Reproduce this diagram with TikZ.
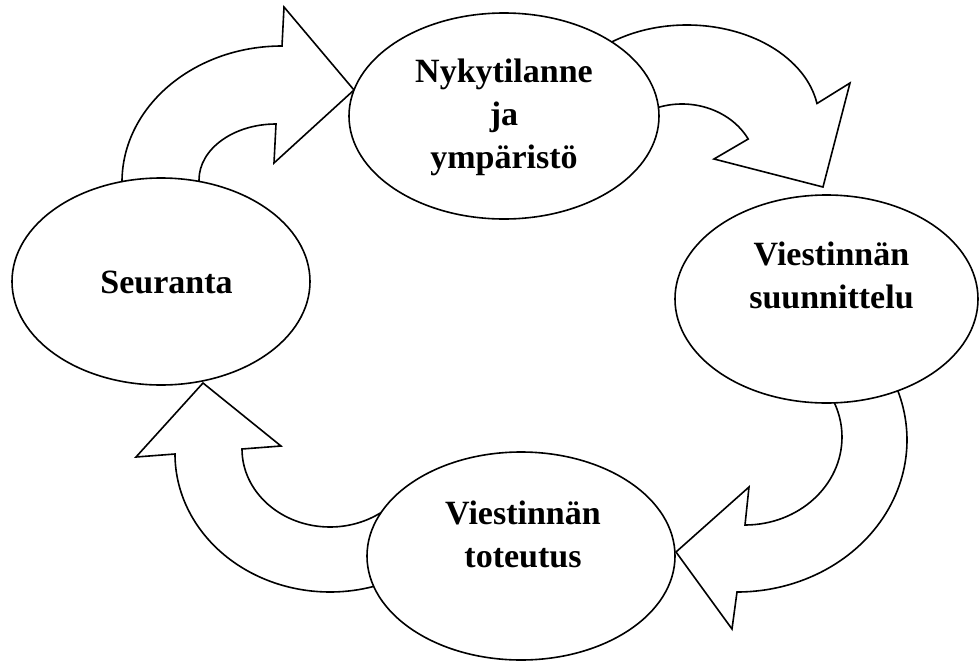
\documentclass[tikz,border=0pt]{standalone}
\usepackage{fontspec}
\setmainfont{Liberation Serif}
\usetikzlibrary{shapes.geometric,calc}
\begin{document}
\begin{tikzpicture}[x=0.75pt,y=0.75pt,
  blockarrow/.style={draw=black,fill=white,line width=1.2pt,line join=miter},
  stage/.style={ellipse,draw=black,fill=white,line width=1.2pt,inner sep=0pt},
  stagetext/.style={font=\fontsize{25.5}{32.25}\selectfont\bfseries,align=center,anchor=base,inner sep=0pt}]
\useasboundingbox (0,0) rectangle (979,-661);
% block arrow: Seuranta -> Nykytilanne
\draw[blockarrow] (122,-190) -- (122,-182)
  arc[start angle=180,end angle=90,x radius=160,y radius=136]
  -- (284,-7) -- (354,-90) -- (274,-163) -- (276,-124)
  arc[start angle=90,end angle=180,x radius=77,y radius=56]
  -- (199,-192) -- cycle;
% block arrow: Nykytilanne -> suunnittelu
\draw[blockarrow] ($(687,-120)+(127:132 and 95)$)
  arc[start angle=127,end angle=10,x radius=132,y radius=95]
  -- (850,-83) -- (823,-187) -- (714,-159)
  -- ($(682,-170)+(28:75 and 66)$)
  arc[start angle=28,end angle=112,x radius=75,y radius=66]
  -- (600,-90) -- cycle;
% block arrow: suunnittelu -> toteutus
\draw[blockarrow] ($(737,-440)+(20:170 and 152)$)
  arc[start angle=20,end angle=-90,x radius=170,y radius=152]
  -- (732,-629) -- (676,-552) -- (749,-487) -- (745,-525)
  arc[start angle=-90,end angle=26,x radius=97,y radius=88]
  -- (870,-380) -- cycle;
% block arrow: toteutus -> Seuranta
\draw[blockarrow] ($(330,-454)+(-70:155 and 138)$)
  arc[start angle=-70,end angle=-180,x radius=155,y radius=138]
  -- (136,-457) -- (203,-383) -- (281,-446) -- (242,-449)
  arc[start angle=180,end angle=310,x radius=88,y radius=78]
  -- (420,-550) -- cycle;
% stages
\node[stage,minimum width=232.5pt,minimum height=154.5pt] (nyky) at (504,-116) {};
\node[stage,minimum width=227.25pt,minimum height=156pt] (suun) at (826.5,-299) {};
\node[stage,minimum width=231pt,minimum height=156pt] (tote) at (521,-556) {};
\node[stage,minimum width=223.5pt,minimum height=155.25pt] (seur) at (161,-281.5) {};
% texts (anchor base = baseline of the last line)
\node[stagetext] (tnyky) at (504,-168) {Nykytilanne\\ja\\ympäristö};
\node[stagetext] (tsuun) at (831.5,-308) {Viestinnän\\suunnittelu};
\node[stagetext] (ttote) at (523,-567) {Viestinnän\\toteutus};
\node[stagetext] (tseur) at (166.5,-293) {Seuranta};
\end{tikzpicture}
\end{document}
